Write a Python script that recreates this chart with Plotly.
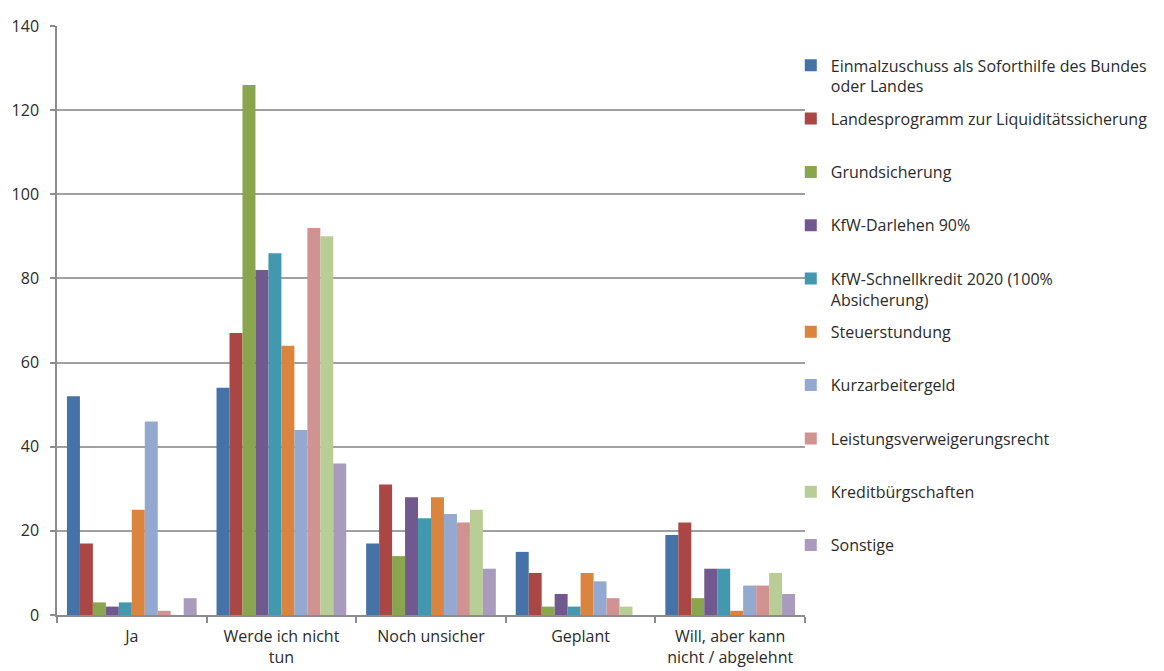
import plotly.graph_objects as go

categories = ["Ja", "Werde ich nicht<br>tun", "Noch unsicher", "Geplant", "Will, aber kann<br>nicht / abgelehnt"]

series_names = [
    "Einmalzuschuss als Soforthilfe des Bundes<br>oder Landes",
    "Landesprogramm zur Liquiditätssicherung",
    "Grundsicherung",
    "KfW-Darlehen 90%",
    "KfW-Schnellkredit 2020 (100%<br>Absicherung)",
    "Steuerstundung",
    "Kurzarbeitergeld",
    "Leistungsverweigerungsrecht",
    "Kreditbürgschaften",
    "Sonstige",
]

einmalzuschuss = [52, 54, 17, 15, 19]
landesprogramm = [17, 67, 31, 10, 22]
grundsicherung = [3, 126, 14, 2, 4]
kfw_darlehen = [2, 82, 28, 5, 11]
kfw_schnellkredit = [3, 86, 23, 2, 11]
steuerstundung = [25, 64, 28, 10, 1]
kurzarbeitergeld = [46, 44, 24, 8, 7]
leistungsverweigerung = [1, 92, 22, 4, 7]
kreditbuergschaften = [0, 90, 25, 2, 10]
sonstige = [4, 36, 11, 0, 5]

values = [einmalzuschuss, landesprogramm, grundsicherung, kfw_darlehen, kfw_schnellkredit,
          steuerstundung, kurzarbeitergeld, leistungsverweigerung, kreditbuergschaften, sonstige]

colors = ["#4572A7", "#AA4643", "#89A54E", "#71588F", "#4198AF",
          "#DB843D", "#93A9CF", "#D19392", "#B9CD96", "#A99BBD"]

y_ticks = [0, 20, 40, 60, 80, 100, 120, 140]

FONT = "Open Sans"

fig = go.Figure()
for name, vals, col in zip(series_names, values, colors):
    label = name if "<br>" in name else name + "<br> "
    fig.add_trace(go.Bar(
        x=categories, y=vals, name=label, legendgroup=name,
        marker=dict(color=col, line=dict(width=0)),
    ))

fig.update_layout(
    width=1164, height=671,
    margin=dict(l=57, r=359, t=26, b=56, autoexpand=False),
    paper_bgcolor="white", plot_bgcolor="white",
    barmode="group", bargap=0.133, bargroupgap=0,
    font=dict(family=FONT, size=16, color="#2b2b2b"),
    legend=dict(
        x=0.981, y=0.962, xanchor="left", yanchor="top",
        font=dict(family=FONT, size=16, color="#2b2b2b"),
        tracegroupgap=8.7, valign="top", itemwidth=30,
        bgcolor="rgba(0,0,0,0)",
    ),
    showlegend=True,
)

fig.update_yaxes(
    range=[0, 140], tickvals=y_ticks, ticktext=[str(v) for v in y_ticks],
    showgrid=True, gridcolor="#A0A0A0", gridwidth=1.5,
    showline=True, linecolor="#8C8C8C", linewidth=1.5,
    ticks="outside", ticklen=5, tickcolor="#8C8C8C", tickwidth=1.5,
    ticklabelstandoff=8, zeroline=False, automargin=False,
    tickfont=dict(family=FONT, size=16, color="#2b2b2b"),
)
fig.update_xaxes(
    showline=True, linecolor="#8C8C8C", linewidth=1.5,
    ticks="outside", tickson="boundaries", ticklen=6, tickcolor="#8C8C8C", tickwidth=1.5,
    showgrid=False, ticklabelstandoff=6, automargin=False,
    tickfont=dict(family=FONT, size=16, color="#2b2b2b"),
)

fig.write_html("out.html")
